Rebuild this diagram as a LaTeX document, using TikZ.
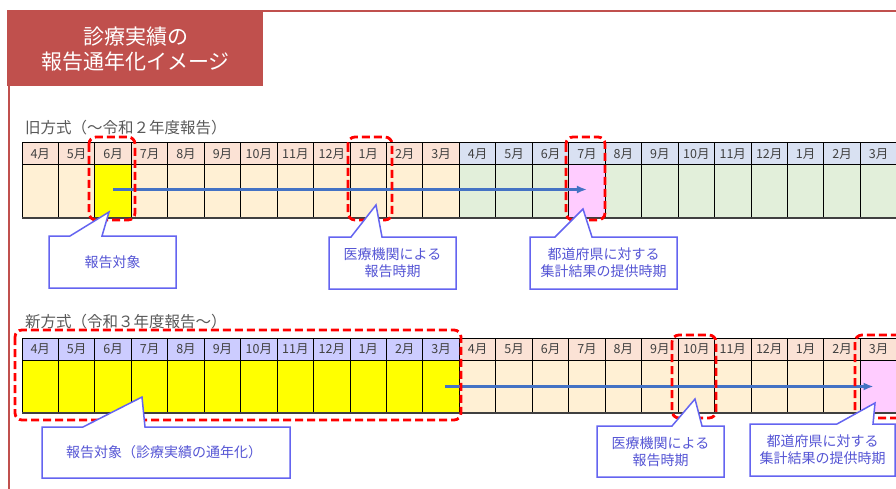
\documentclass[tikz,border=0pt]{standalone}
\usepackage{fontspec}
\setmainfont{Noto Sans CJK JP}
\usetikzlibrary{calc,arrows.meta}
\definecolor{titlered}{HTML}{C0504D}
\definecolor{salmon}{HTML}{FBE2D5}
\definecolor{peach}{HTML}{FFF0D4}
\definecolor{bluegray}{HTML}{D9E1F2}
\definecolor{lightgreen}{HTML}{E2EFDA}
\definecolor{lavender}{HTML}{CCCCFF}
\definecolor{hiyellow}{HTML}{FFFF00}
\definecolor{hipink}{HTML}{FFCCFF}
\definecolor{calloutc}{HTML}{6464F0}
\definecolor{callouttext}{HTML}{5555D5}
\definecolor{arrowblue}{HTML}{4472C4}
\definecolor{labelgray}{HTML}{595959}
\definecolor{monthgray}{HTML}{404040}
\tikzset{
  cell/.style={draw=black, line width=1pt, inner sep=0pt, outer sep=0pt,
    minimum width=36.45pt},
  hcell/.style={cell, minimum height=22pt, text=monthgray,
    font=\fontsize{12.5}{14}\selectfont},
  bcell/.style={cell, minimum height=53pt},
  hilite/.style={draw=red, line width=2.8pt, dash pattern=on 8pt off 4pt,
    rounded corners=7pt},
  arr/.style={draw=arrowblue, line width=2.4pt, -{Latex[length=10pt,width=8pt]}},
  callout/.style={draw=calloutc, line width=1.5pt, fill=white, line join=miter},
  callouttxt/.style={text=callouttext, align=center, inner sep=0pt,
    font=\fontsize{14}{17}\selectfont},
  seclabel/.style={anchor=west, text=labelgray, inner sep=0pt,
    font=\fontsize{15.5}{17}\selectfont}
}
\begin{document}
\begin{tikzpicture}[x=1pt,y=-1pt]
\useasboundingbox (0,0) rectangle (896,489);
% frame and title
\draw[titlered, line width=2pt] (9,86) -- (9,489);
\draw[titlered, line width=2pt] (263,11) -- (896,11);
\node[fill=titlered, minimum width=256pt, minimum height=76pt, inner sep=0pt,
  anchor=north west] (title) at (7,10) {};
\node[text=white, align=center, font=\fontsize{21}{25}\selectfont, inner sep=0pt]
  (titletxt) at (135.5,49) {診療実績の\\報告通年化イメージ};
% section labels
\node[seclabel] (oldlbl) at (25,128) {旧方式（～令和２年度報告）};
\node[seclabel] (newlbl) at (25,322) {新方式（令和３年度報告～）};
% cells
\foreach \m [count=\i] in {4,5,6,7,8,9,10,11,12,1,2,3,4,5,6,7,8,9,10,11,12,1,2,3} {
  \pgfmathsetmacro{\cx}{22+(\i-0.5)*36.45}
  \ifnum\i<13
    \def\thc{salmon}\def\tbc{peach}\def\bhc{lavender}\def\bbc{hiyellow}
  \else
    \def\thc{bluegray}\def\tbc{lightgreen}\def\bhc{salmon}\def\bbc{peach}
  \fi
  \ifnum\i=3 \def\tbc{hiyellow}\fi
  \ifnum\i=16 \def\tbc{hipink}\fi
  \ifnum\i=24 \def\bbc{hipink}\fi
  \node[hcell, fill=\thc] (th\i) at (\cx,154) {\m 月};
  \node[bcell, fill=\tbc] (tb\i) at (\cx,191.5) {};
  \node[hcell, fill=\bhc] (bh\i) at (\cx,349) {\m 月};
  \node[bcell, fill=\bbc] (bb\i) at (\cx,386.5) {};
}
\draw[black!75, line width=1.6pt] (tb1.south west) -- (tb24.south east);
\draw[black!75, line width=1.6pt] (bb1.south west) -- (bb24.south east);
% arrows
\draw[arr] ([yshift=2pt]tb3.center) -- ([yshift=2pt]tb16.center);
\draw[arr] ([xshift=4pt]bb12.center) -- ([xshift=-5pt]bb24.center);
% highlights
\draw[hilite] (89,137) rectangle (135,220);
\draw[hilite] (348,137) rectangle (392,220);
\draw[hilite] (566,137) rectangle (605,220);
\draw[hilite] (15,330) rectangle (461,420);
\draw[hilite] (672,335) rectangle (716,418);
\draw[hilite] (855,335) rectangle (910,418);
% callouts
\coordinate (t1) at (109,212);
\coordinate (t2) at (376,205);
\coordinate (t3) at (583,209);
\coordinate (t4) at (142,397);
\coordinate (t5) at (695,399);
\coordinate (t6) at (875,403);
\draw[callout] (49,236) -- (70,236) -- (t1) -- (102,236) -- (176,236) -- (176,288) -- (49,288) -- cycle;
\node[callouttxt] (c1) at (112.5,262) {報告対象};
\draw[callout] (329,237) -- (351,237) -- (t2) -- (382,237) -- (456,237) -- (456,289) -- (329,289) -- cycle;
\node[callouttxt] (c2) at (392.5,263) {医療機関による\\報告時期};
\draw[callout] (530,237) -- (555,237) -- (t3) -- (592,237) -- (677,237) -- (677,289) -- (530,289) -- cycle;
\node[callouttxt] (c3) at (603.5,263) {都道府県に対する\\集計結果の提供時期};
\draw[callout] (42,427) -- (83,427) -- (t4) -- (145,427) -- (290,427) -- (290,478) -- (42,478) -- cycle;
\node[callouttxt] (c4) at (164,452.5) {報告対象（診療実績の通年化）};
\draw[callout] (597,426) -- (672,426) -- (t5) -- (702,426) -- (724,426) -- (724,477) -- (597,477) -- cycle;
\node[callouttxt] (c5) at (660.5,451.5) {医療機関による\\報告時期};
\draw[callout] (750,424) -- (837,424) -- (t6) -- (873,424) -- (895,424) -- (895,476) -- (750,476) -- cycle;
\node[callouttxt] (c6) at (822.5,450) {都道府県に対する\\集計結果の提供時期};
\end{tikzpicture}
\end{document}
